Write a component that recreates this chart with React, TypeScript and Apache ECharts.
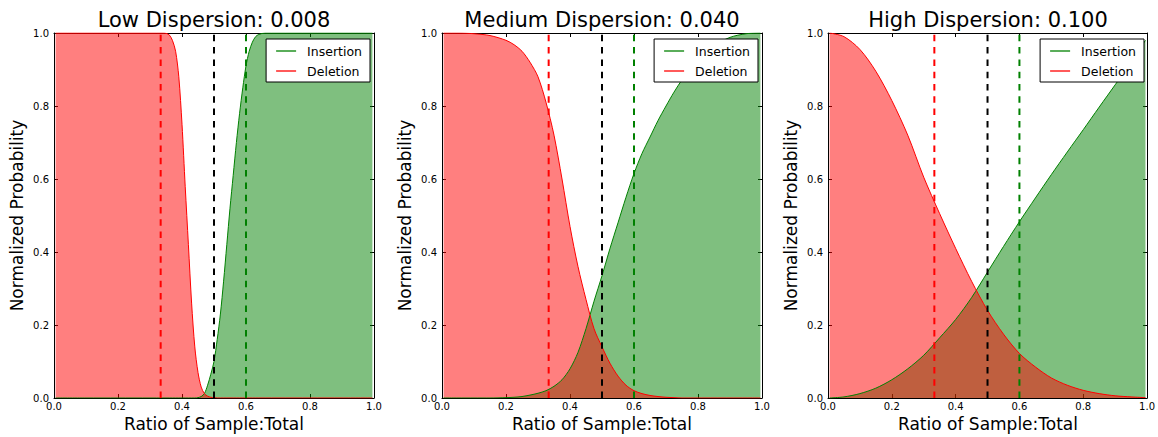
import React, { useEffect, useRef } from "react";
import * as echarts from "echarts";

const FONT = "DejaVu Sans";

const panelTitles = ["Low Dispersion: 0.008", "Medium Dispersion: 0.040", "High Dispersion: 0.100"];
const seriesNames = ["Insertion", "Deletion"];
const xAxisTitle = "Ratio of Sample:Total";
const yAxisTitle = "Normalized Probability";

// Low dispersion
const lowX = [0.005, 0.1, 0.2, 0.3, 0.34, 0.35, 0.36, 0.37, 0.38, 0.39, 0.4, 0.41, 0.42, 0.43, 0.44, 0.45, 0.46, 0.47, 0.48, 0.49, 0.5, 0.51, 0.52, 0.53, 0.54, 0.55, 0.56, 0.57, 0.58, 0.59, 0.6, 0.61, 0.62, 0.63, 0.64, 0.66, 0.7, 0.8, 0.9, 0.995];
const lowDeletion = [1, 1, 1, 1, 1, 0.999, 0.995, 0.98, 0.95, 0.88, 0.75, 0.58, 0.42, 0.26, 0.14, 0.07, 0.03, 0.012, 0.005, 0.002, 0.001, 0, 0, 0, 0, 0, 0, 0, 0, 0, 0, 0, 0, 0, 0, 0, 0, 0, 0, 0];
const lowInsertion = [0, 0, 0, 0, 0, 0, 0, 0, 0, 0, 0, 0, 0, 0, 0, 0.001, 0.004, 0.012, 0.035, 0.065, 0.1, 0.16, 0.23, 0.32, 0.42, 0.52, 0.61, 0.7, 0.78, 0.85, 0.91, 0.95, 0.975, 0.99, 0.996, 1, 1, 1, 1, 1];

// Medium dispersion
const medX = [0.005, 0.05, 0.1, 0.15, 0.2, 0.225, 0.25, 0.275, 0.3, 0.325, 0.35, 0.375, 0.4, 0.425, 0.45, 0.475, 0.5, 0.525, 0.55, 0.575, 0.6, 0.625, 0.65, 0.675, 0.7, 0.725, 0.75, 0.775, 0.8, 0.85, 0.9, 0.95, 0.995];
const medDeletion = [1, 1, 0.998, 0.993, 0.98, 0.968, 0.95, 0.92, 0.88, 0.81, 0.72, 0.6, 0.47, 0.36, 0.27, 0.19, 0.14, 0.095, 0.06, 0.035, 0.02, 0.012, 0.007, 0.004, 0.002, 0.001, 0, 0, 0, 0, 0, 0, 0];
const medInsertion = [0, 0, 0, 0, 0.001, 0.002, 0.004, 0.008, 0.013, 0.02, 0.032, 0.05, 0.08, 0.125, 0.19, 0.265, 0.335, 0.41, 0.48, 0.55, 0.615, 0.67, 0.715, 0.76, 0.8, 0.838, 0.872, 0.902, 0.927, 0.965, 0.988, 0.998, 1];

// High dispersion
const highX = [0.005, 0.05, 0.1, 0.15, 0.2, 0.25, 0.3, 0.35, 0.4, 0.45, 0.5, 0.55, 0.6, 0.65, 0.7, 0.75, 0.8, 0.85, 0.9, 0.95, 0.995];
const highDeletion = [1, 0.99, 0.955, 0.895, 0.815, 0.72, 0.605, 0.505, 0.41, 0.32, 0.24, 0.175, 0.122, 0.085, 0.055, 0.035, 0.021, 0.012, 0.006, 0.003, 0.001];
const highInsertion = [0, 0.003, 0.012, 0.027, 0.05, 0.08, 0.117, 0.165, 0.215, 0.275, 0.345, 0.415, 0.483, 0.548, 0.612, 0.674, 0.735, 0.797, 0.858, 0.92, 0.98];

// Reference (dashed) positions
const refX = [1 / 3, 0.5, 0.6];

const panels = [
  { x: lowX, ins: lowInsertion, del: lowDeletion },
  { x: medX, ins: medInsertion, del: medDeletion },
  { x: highX, ins: highInsertion, del: highDeletion },
];

const GRID_LEFTS = [54, 442, 828];
const GRID_TOP = 33;
const GRID_W = 320;
const GRID_H = 365;
const W = 1158;
const H = 437;

const GREEN = "#008000";
const RED = "#ff0000";
const refColors = [RED, "#000000", GREEN];

export default function App() {
  const ref = useRef<HTMLDivElement>(null);
  useEffect(() => {
    if (!ref.current) return;
    const chart = echarts.init(ref.current, undefined, { renderer: "svg" });
    const fmt = (v: number) => v.toFixed(1);
    const grid: any[] = [];
    const xAxis: any[] = [];
    const yAxis: any[] = [];
    const series: any[] = [];
    const legend: any[] = [];
    const graphic: any[] = [];

    const axisCommon = (gi: number) => ({
      type: "value",
      gridIndex: gi,
      min: 0,
      max: 1,
      interval: 0.2,
      splitLine: { show: false },
      axisLine: { show: true, onZero: false, lineStyle: { color: "#000", width: 1 } },
      axisTick: { show: true, inside: true, length: 4, lineStyle: { color: "#000", width: 1 } },
    });

    panels.forEach((p, i) => {
      const left = GRID_LEFTS[i];
      grid.push({ left, top: GRID_TOP, width: GRID_W, height: GRID_H, show: false });
      xAxis.push({
        ...axisCommon(i),
        position: "bottom",
        axisLabel: { show: true, margin: 3, fontSize: 10, color: "#000", fontFamily: FONT, formatter: fmt },
      });
      yAxis.push({
        ...axisCommon(i),
        position: "left",
        axisLabel: { show: true, margin: 5, fontSize: 10, color: "#000", fontFamily: FONT, formatter: fmt },
      });
    });
    panels.forEach((p, i) => {
      xAxis.push({ ...axisCommon(i), position: "top", axisLabel: { show: false } });
      yAxis.push({ ...axisCommon(i), position: "right", axisLabel: { show: false } });
    });

    panels.forEach((p, i) => {
      const left = GRID_LEFTS[i];
      const common = {
        type: "line",
        xAxisIndex: i,
        yAxisIndex: i,
        showSymbol: false,
        symbol: "none",
        smooth: 0.3,
        silent: true,
        clip: true,
      };
      series.push({
        ...common,
        name: seriesNames[0],
        data: p.x.map((x, k) => [x, p.ins[k]]),
        color: GREEN,
        lineStyle: { color: GREEN, width: 1 },
        areaStyle: { color: GREEN, opacity: 0.5 },
        z: 2,
      });
      series.push({
        ...common,
        name: seriesNames[1],
        data: p.x.map((x, k) => [x, p.del[k]]),
        color: RED,
        lineStyle: { color: RED, width: 1 },
        areaStyle: { color: RED, opacity: 0.5 },
        z: 2,
      });
      refX.forEach((rx, k) => {
        series.push({
          type: "line",
          name: "ref" + i + "_" + k,
          xAxisIndex: i,
          yAxisIndex: i,
          showSymbol: false,
          symbol: "none",
          silent: true,
          data: [[rx, 0], [rx, 1]],
          lineStyle: { color: refColors[k], width: 2, type: [6.5, 5.8] },
          z: 3,
        });
      });

      legend.push({
        data: seriesNames.map((n) => ({ name: n })),
        orient: "vertical",
        right: W - (left + GRID_W - 4),
        top: 39,
        icon: "rect",
        itemWidth: 20,
        itemHeight: 1.3,
        itemGap: 6,
        padding: [5, 8, 4, 10],
        borderColor: "#000",
        borderWidth: 1,
        borderRadius: 0,
        backgroundColor: "#fff",
        selectedMode: false,
        textStyle: { fontFamily: FONT, fontSize: 12.5, color: "#000", lineHeight: 14, padding: [0, 0, 0, 6] },
      });

      const cx = left + GRID_W / 2;
      graphic.push({
        type: "text",
        x: cx,
        y: 19.5,
        style: { text: panelTitles[i], fontSize: 21, fontFamily: FONT, fill: "#000", textAlign: "center", textVerticalAlign: "middle", align: "center", verticalAlign: "middle" },
      });
      graphic.push({
        type: "text",
        x: cx,
        y: 424,
        style: { text: xAxisTitle, fontSize: 17, fontFamily: FONT, fill: "#000", textAlign: "center", textVerticalAlign: "middle", align: "center", verticalAlign: "middle" },
      });
      graphic.push({
        type: "text",
        x: left - 37,
        y: GRID_TOP + GRID_H / 2,
        rotation: Math.PI / 2,
        style: { text: yAxisTitle, fontSize: 17, fontFamily: FONT, fill: "#000", textAlign: "center", textVerticalAlign: "middle", align: "center", verticalAlign: "middle" },
      });
    });

    chart.setOption({
      animation: false,
      backgroundColor: "#fff",
      textStyle: { fontFamily: FONT },
      grid,
      xAxis,
      yAxis,
      series,
      legend,
      graphic,
    });
    return () => chart.dispose();
  }, []);
  return <div ref={ref} style={{ position: "absolute", left: 0, top: 0, width: W, height: H }} />;
}
